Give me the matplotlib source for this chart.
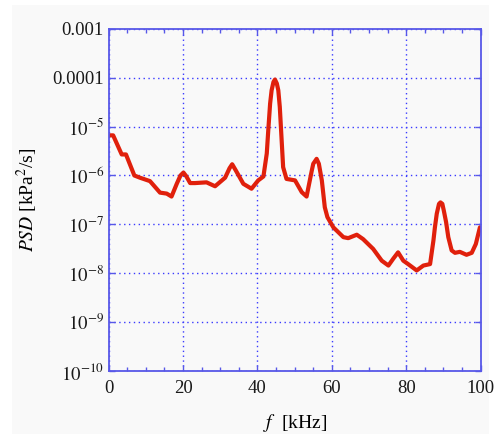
import numpy as np
import matplotlib.pyplot as plt
from matplotlib.patches import Rectangle
from matplotlib.ticker import FixedLocator, MultipleLocator

plt.rcParams['font.family'] = ['Liberation Serif', 'DejaVu Serif']
plt.rcParams['mathtext.fontset'] = 'stix'

# spectrum: frequency [kHz] and log10(PSD)
freq = [0.0, 1.2, 3.5, 4.65, 6.9, 8.4, 11.1, 13.8, 15.6, 16.9, 18.3, 19.3,
        20.1, 20.9, 21.9, 23.2, 26.3, 28.6, 31.3, 32.5, 33.2, 34.2, 36.2,
        38.4, 40.2, 41.6, 42.5, 42.9, 43.4, 43.8, 44.3, 44.7, 45.2, 45.6,
        46.0, 46.3, 46.6, 46.9, 47.8, 50.1, 51.9, 53.2, 54.6, 55.0, 55.9,
        56.5, 57.3, 58.1, 58.8, 60.4, 63.1, 64.4, 66.7, 68.4, 71.1, 73.4,
        75.2, 76.5, 77.8, 79.2, 80.5, 82.8, 84.6, 86.4, 87.3, 87.7, 88.2,
        88.8, 89.2, 89.7, 90.1, 90.7, 91.3, 92.2, 93.1, 94.4, 96.2, 97.6,
        98.7, 99.8]
log_psd = [-5.18, -5.18, -5.57, -5.57, -6.00, -6.045, -6.115, -6.35, -6.37,
           -6.43, -6.17, -6.00, -5.94, -6.02, -6.155, -6.155, -6.14, -6.22,
           -6.045, -5.85, -5.77, -5.90, -6.17, -6.27, -6.10, -6.02, -5.55,
           -5.08, -4.53, -4.26, -4.09, -4.04, -4.12, -4.26, -4.60, -5.01,
           -5.42, -5.83, -6.07, -6.10, -6.34, -6.43, -5.90, -5.76, -5.66,
           -5.76, -6.10, -6.65, -6.85, -7.06, -7.26, -7.28, -7.21, -7.30,
           -7.50, -7.74, -7.84, -7.70, -7.57, -7.74, -7.81, -7.94, -7.84,
           -7.81, -7.33, -7.06, -6.78, -6.58, -6.55, -6.58, -6.72, -6.95,
           -7.26, -7.53, -7.58, -7.56, -7.62, -7.58, -7.40, -7.06]
psd = 10.0 ** np.array(log_psd)

y_ticks = [1e-10, 1e-9, 1e-8, 1e-7, 1e-6, 1e-5, 1e-4, 1e-3]
y_labels = ['$10^{-10}$', '$10^{-9}$', '$10^{-8}$', '$10^{-7}$',
            '$10^{-6}$', '$10^{-5}$', '0.0001', '0.001']

blue = '#5858e8'
fig = plt.figure(figsize=(4.94, 4.34), dpi=100)
fig.patch.set_facecolor('white')
fig.patches.append(Rectangle((12 / 494, 0), 477 / 494, 429 / 434,
                             transform=fig.transFigure, facecolor='#f9f9f9',
                             edgecolor='none', zorder=-10))
ax = fig.add_axes([0.220, 0.1445, 0.753, 0.7895])
ax.set_facecolor('#f9f9f9')

ax.plot(freq, psd, color='#e0200c', lw=3.0, solid_capstyle='round',
        solid_joinstyle='round')

ax.set_yscale('log')
ax.set_xlim(0, 100)
ax.set_ylim(1e-10, 1e-3)
ax.set_xticks([0, 20, 40, 60, 80, 100])
ax.xaxis.set_minor_locator(MultipleLocator(5))
ax.yaxis.set_major_locator(FixedLocator(y_ticks))
ax.set_yticklabels(y_labels)
ax.yaxis.set_minor_locator(FixedLocator([]))

for s in ax.spines.values():
    s.set_color(blue)
    s.set_linewidth(1.3)
ax.tick_params(which='both', direction='in', color=blue, top=True, right=True,
               labelsize=13.5, labelcolor='#1a1a1a')
ax.tick_params(which='major', length=4, width=1)
ax.tick_params(which='minor', length=3, width=1)
ax.tick_params(axis='x', pad=6)
ax.grid(True, which='major', color='#3a3aff', linestyle=(0, (1, 2.5)), lw=1)

ax.set_xlabel(r'$f$  [kHz]', fontsize=14, labelpad=11)
ax.set_ylabel(r'$PSD$ [kPa$^2$/s]', fontsize=14, labelpad=9)

fig.savefig('out.png', dpi=100)
